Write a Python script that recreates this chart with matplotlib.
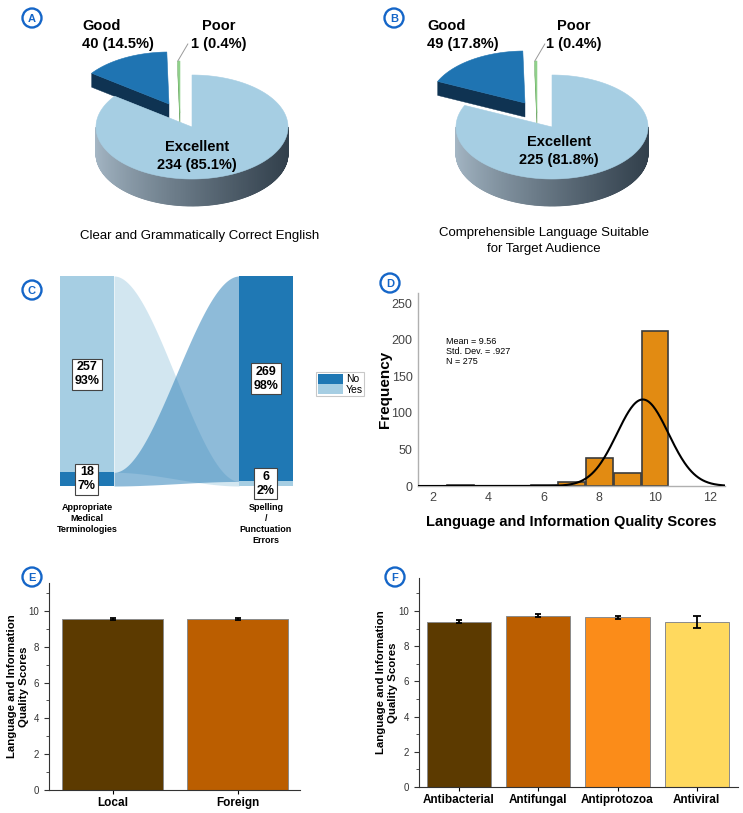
import numpy as np
import matplotlib
matplotlib.use("Agg")
import matplotlib.pyplot as plt
from matplotlib.patches import Polygon, Circle, Rectangle, Patch

plt.rcParams['font.family'] = ['Liberation Sans', 'DejaVu Sans']

# ---------------- data ----------------
pie_labels = ['Excellent', 'Good', 'Poor']
pie_a_counts = [234, 40, 1]
pie_b_counts = [225, 49, 1]
pie_a_caption = 'Clear and Grammatically Correct English'
pie_b_caption = 'Comprehensible Language Suitable\nfor Target Audience'

sankey_left_name = 'Appropriate\nMedical\nTerminologies'
sankey_right_name = 'Spelling\n/\nPunctuation\nErrors'
sankey_left_cats = ['Yes', 'No']
sankey_left_counts = [257, 18]
sankey_right_cats = ['No', 'Yes']
sankey_right_counts = [269, 6]

hist_scores = [3, 6, 7, 8, 9, 10]
hist_freq = [1, 1, 5, 38, 18, 212]
hist_mean = 9.56
hist_sd = 0.927
hist_n = 275

origin_cats = ['Local', 'Foreign']
origin_means = [9.54, 9.55]
origin_err = [0.06, 0.07]

class_cats = ['Antibacterial', 'Antifungal', 'Antiprotozoa', 'Antiviral']
class_means = [9.40, 9.74, 9.64, 9.38]
class_err = [0.07, 0.07, 0.07, 0.33]

# ---------------- figure ----------------
W, H = 743, 813
fig = plt.figure(figsize=(W / 100, H / 100), dpi=100)
fig.patch.set_facecolor('white')


def fbox(x0, y0, x1, y1):
    return [x0 / W, 1 - y1 / H, (x1 - x0) / W, (y1 - y0) / H]


canvas = fig.add_axes([0, 0, 1, 1])
canvas.set_xlim(0, W)
canvas.set_ylim(H, 0)
canvas.axis('off')

BADGE = '#1566c8'


def badge(x, y, letter):
    canvas.add_patch(Circle((x, y), 9.5, facecolor='white', edgecolor=BADGE, lw=1.7, zorder=20))
    canvas.text(x, y + 0.5, letter, ha='center', va='center', color=BADGE,
                fontsize=8, fontweight='bold', zorder=21)


def mix(c1, c2, f):
    return tuple((a + (b - a) * f) / 255 for a, b in zip(c1, c2))


def pie3d(ax, cx, cy, rx, ry, depths, values, offsets, top_cols, cut_cols,
          side_light, side_dark, start=90):
    total = sum(values)
    spans = []
    a = start
    for v in values:
        a2 = a - 360.0 * v / total
        spans.append((a, a2))
        a = a2
    mids = [(s[0] + s[1]) / 2 for s in spans]
    order = sorted(range(len(values)), key=lambda i: -np.sin(np.radians(mids[i])))
    info = {}
    for i in order:
        a1, a2 = spans[i]
        d = depths[i]
        X = cx + offsets[i][0]
        Y = cy + offsets[i][1]
        n = max(3, int(abs(a1 - a2) * 2) + 2)
        th = np.radians(np.linspace(a2, a1, n))
        tx = X + rx * np.cos(th)
        ty = Y - ry * np.sin(th)
        # radial cut faces
        for edge, sgn in ((a1, 1), (a2, -1)):
            nd = np.radians(edge + 90 * sgn)
            if np.sin(nd) < -1e-6:
                ex = X + rx * np.cos(np.radians(edge))
                ey = Y - ry * np.sin(np.radians(edge))
                ax.add_patch(Polygon([(X, Y), (ex, ey), (ex, ey + d), (X, Y + d)],
                                     closed=True, facecolor=cut_cols[i],
                                     edgecolor=cut_cols[i], lw=0.3))
        # outer side (front half) with gradient: light at left, dark at right
        for k in range(n - 1):
            tm = (th[k] + th[k + 1]) / 2
            if np.sin(tm) < 0:
                f = (1 + np.cos(tm)) / 2
                col = mix(side_light, side_dark, f ** 0.8)
                quad = [(tx[k], ty[k]), (tx[k + 1], ty[k + 1]),
                        (tx[k + 1], ty[k + 1] + d), (tx[k], ty[k] + d)]
                ax.add_patch(Polygon(quad, closed=True, facecolor=col, edgecolor=col, lw=0.6))
        # top face
        ax.add_patch(Polygon([(X, Y)] + list(zip(tx, ty)), closed=True,
                             facecolor=top_cols[i], edgecolor=top_cols[i], lw=0.4))
        info[i] = (X, Y, tx, ty)
    return info


TOP = ['#a6cee3', '#1f74b2', '#8fd18a']
CUT = ['#5d7486', '#0f3352', '#5a9a50']
SIDE_L = (165, 183, 197)
SIDE_D = (50, 64, 76)


def pie_panel(cx, cy, counts, good_off, poor_off, good_xy, poor_xy, exc_xy, cap_xy,
              caption):
    total = sum(counts)
    info = pie3d(canvas, cx, cy, 96, 52, [27, 14, 14], counts,
                 [(0, 0), good_off, poor_off], TOP, CUT, SIDE_L, SIDE_D)
    # Poor leader line
    Xp, Yp, txp, typ = info[2]
    tipx, tipy = txp[-1], typ[-1]
    canvas.plot([tipx, tipx + 10], [tipy, tipy - 17], color='#9a9a9a', lw=0.7)
    pct = [100.0 * c / total for c in counts]
    canvas.text(good_xy[0], good_xy[1], f"{pie_labels[1]}\n{counts[1]} ({pct[1]:.1f}%)",
                ha='left', va='center', fontsize=10.5, fontweight='bold', linespacing=1.4)
    canvas.text(poor_xy[0], poor_xy[1], f"{pie_labels[2]}\n{counts[2]} ({pct[2]:.1f}%)",
                ha='center', va='center', fontsize=10.5, fontweight='bold', linespacing=1.4)
    canvas.text(exc_xy[0], exc_xy[1], f"{pie_labels[0]}\n{counts[0]} ({pct[0]:.1f}%)",
                ha='center', va='center', fontsize=10.5, fontweight='bold', linespacing=1.4)
    canvas.text(cap_xy[0], cap_xy[1], caption, ha='center', va='center', fontsize=9.5,
                linespacing=1.45)


# Panel A
pie_panel(192, 127, pie_a_counts, (-23, -23), (-12, -14), (82, 35), (219, 35), (197, 156),
          (200, 236), pie_a_caption)
badge(32, 18, 'A')
# Panel B
pie_panel(552, 127, pie_b_counts, (-27, -24), (-15, -14), (427, 35), (574, 35), (559, 151),
          (544, 241), pie_b_caption)
badge(394, 18, 'B')

# ---------------- Panel C: sankey ----------------
axs = fig.add_axes(fbox(60, 276, 293, 486))
total = sum(sankey_left_counts)
axs.set_xlim(0, 1)
axs.set_ylim(total, 0)
axs.axis('off')
nw = 54 / 233
LIGHT = '#a6cee3'
DARK = '#1f78b4'
cat_col = {'Yes': LIGHT, 'No': DARK}


def stack(cats, counts):
    pos = {}
    y = 0
    for c, v in zip(cats, counts):
        pos[c] = (y, y + v)
        y += v
    return pos


lpos = stack(sankey_left_cats, sankey_left_counts)
rpos = stack(sankey_right_cats, sankey_right_counts)

t = np.linspace(0, 1, 200)
s = 3 * t ** 2 - 2 * t ** 3
xs = nw + (1 - 2 * nw) * t
flow_style = {'Yes': (LIGHT, 0.5), 'No': (DARK, 0.5)}
for cat in ['Yes', 'No']:
    l0, l1 = lpos[cat]
    r0, r1 = rpos[cat]
    top = l0 + (r0 - l0) * s
    bot = l1 + (r1 - l1) * s
    c, a = flow_style[cat]
    axs.fill_between(xs, top, bot, color=c, alpha=a, lw=0)

for cats, counts, pos, x0 in ((sankey_left_cats, sankey_left_counts, lpos, 0),
                              (sankey_right_cats, sankey_right_counts, rpos, 1 - nw)):
    for c, v in zip(cats, counts):
        y0, y1 = pos[c]
        axs.add_patch(Rectangle((x0, y0), nw, y1 - y0, facecolor=cat_col[c], lw=0))
        axs.text(x0 + nw / 2, (y0 + y1) / 2, f"{v}\n{100 * v / total:.0f}%",
                 ha='center', va='center', fontsize=9, fontweight='bold',
                 linespacing=1.2, zorder=5,
                 bbox=dict(boxstyle='square,pad=0.2', facecolor='white',
                           edgecolor='#444444', lw=0.8))

for name, xc in ((sankey_left_name, nw / 2), (sankey_right_name, 1 - nw / 2)):
    axs.annotate(name, xy=(xc, total), xytext=(0, -12), textcoords='offset points',
                 ha='center', va='top', fontsize=6.5, fontweight='bold',
                 linespacing=1.3, annotation_clip=False)

leg = fig.legend([Patch(facecolor=DARK), Patch(facecolor=LIGHT)], ['No', 'Yes'],
                 loc='upper left', bbox_to_anchor=(316 / W, 1 - 372 / H),
                 fontsize=7.5, frameon=True, fancybox=False, edgecolor='#bbbbbb',
                 handlelength=2.4, handleheight=1.1, handletextpad=0.3,
                 borderpad=0.15, labelspacing=0.0, borderaxespad=0)
leg.get_frame().set_linewidth(0.8)
badge(32, 290, 'C')

# ---------------- Panel D: histogram ----------------
axd = fig.add_axes(fbox(418, 293, 725, 486))
axd.bar(hist_scores, hist_freq, width=0.96, color='#e28b12', edgecolor='#3c3c3c', lw=1.2,
        zorder=2)
xx = np.linspace(1.5, 12.5, 400)
yy = hist_n * np.exp(-0.5 * ((xx - hist_mean) / hist_sd) ** 2) / (hist_sd * np.sqrt(2 * np.pi))
axd.plot(xx, yy, color='black', lw=1.5, zorder=3)
axd.set_xlim(1.47, 12.52)
axd.set_ylim(0, 264)
axd.set_xticks([2, 4, 6, 8, 10, 12])
axd.set_yticks([0, 50, 100, 150, 200, 250])
for sp in ['top', 'right']:
    axd.spines[sp].set_visible(False)
for sp in ['left', 'bottom']:
    axd.spines[sp].set_color('#b0b0b0')
    axd.spines[sp].set_linewidth(1.0)
axd.tick_params(length=0, labelsize=9, colors='#444444', pad=4)
axd.set_ylabel('Frequency', fontsize=11, fontweight='bold')
axd.yaxis.set_label_coords((392 - 418) / 307, 0.5)
axd.set_xlabel('Language and Information Quality Scores', fontsize=10.5,
               fontweight='bold', labelpad=8)
axd.text(0.09, 0.77, f"Mean = {hist_mean:.2f}\nStd. Dev. = {str(hist_sd)[1:]}\nN = {hist_n}",
         transform=axd.transAxes, fontsize=6.5, va='top', ha='left', linespacing=1.15)
badge(390, 283, 'D')

# ---------------- Panels E and F ----------------
def bar_panel(box, cats, vals, errs, colors, xlim, ylim, caps, label_right):
    ax = fig.add_axes(fbox(*box))
    x = np.arange(len(cats))
    ax.bar(x, vals, width=0.81, color=colors, edgecolor='#8a8a8a', lw=0.7, zorder=2)
    for xi, v, e, cp in zip(x, vals, errs, caps):
        ax.errorbar(xi, v, yerr=e, fmt='none', ecolor='black', elinewidth=1.3,
                    capsize=cp, capthick=1.3, zorder=3)
    ax.set_xlim(*xlim)
    ax.set_ylim(*ylim)
    ax.set_xticks(x)
    ax.set_xticklabels(cats, fontsize=8.5, fontweight='bold')
    ax.set_yticks([0, 2, 4, 6, 8, 10])
    ax.set_yticks([1, 3, 5, 7, 9, 11], minor=True)
    for sp in ['top', 'right']:
        ax.spines[sp].set_visible(False)
    for sp in ['left', 'bottom']:
        ax.spines[sp].set_color('#333333')
        ax.spines[sp].set_linewidth(0.8)
    ax.tick_params(axis='y', which='major', length=3.5, width=0.8, labelsize=7,
                   colors='#333333', direction='out')
    ax.tick_params(axis='y', which='minor', length=2, width=0.6, colors='#333333')
    ax.tick_params(axis='x', length=3, width=0.8, direction='out', pad=2)
    ax.set_ylabel('Language and Information\nQuality Scores', fontsize=8.2,
                  fontweight='bold', linespacing=1.2)
    ax.yaxis.set_label_coords((label_right - box[0]) / (box[2] - box[0]), 0.5)
    return ax


bar_panel((49, 583, 300, 790), origin_cats, origin_means, origin_err,
          ['#5c3a00', '#bb5e00'], (-0.508, 1.5), (0, 11.56), [2.2, 2.2], 29)
badge(32, 577, 'E')
bar_panel((419, 578, 738, 787), class_cats, class_means, class_err,
          ['#5c3a00', '#bb5e00', '#fb8c19', '#ffd95e'], (-0.504, 3.52), (0, 11.88),
          [2.2, 2.2, 2.2, 3], 398)
badge(395, 577, 'F')

fig.savefig('out.png', dpi=100, facecolor='white')
